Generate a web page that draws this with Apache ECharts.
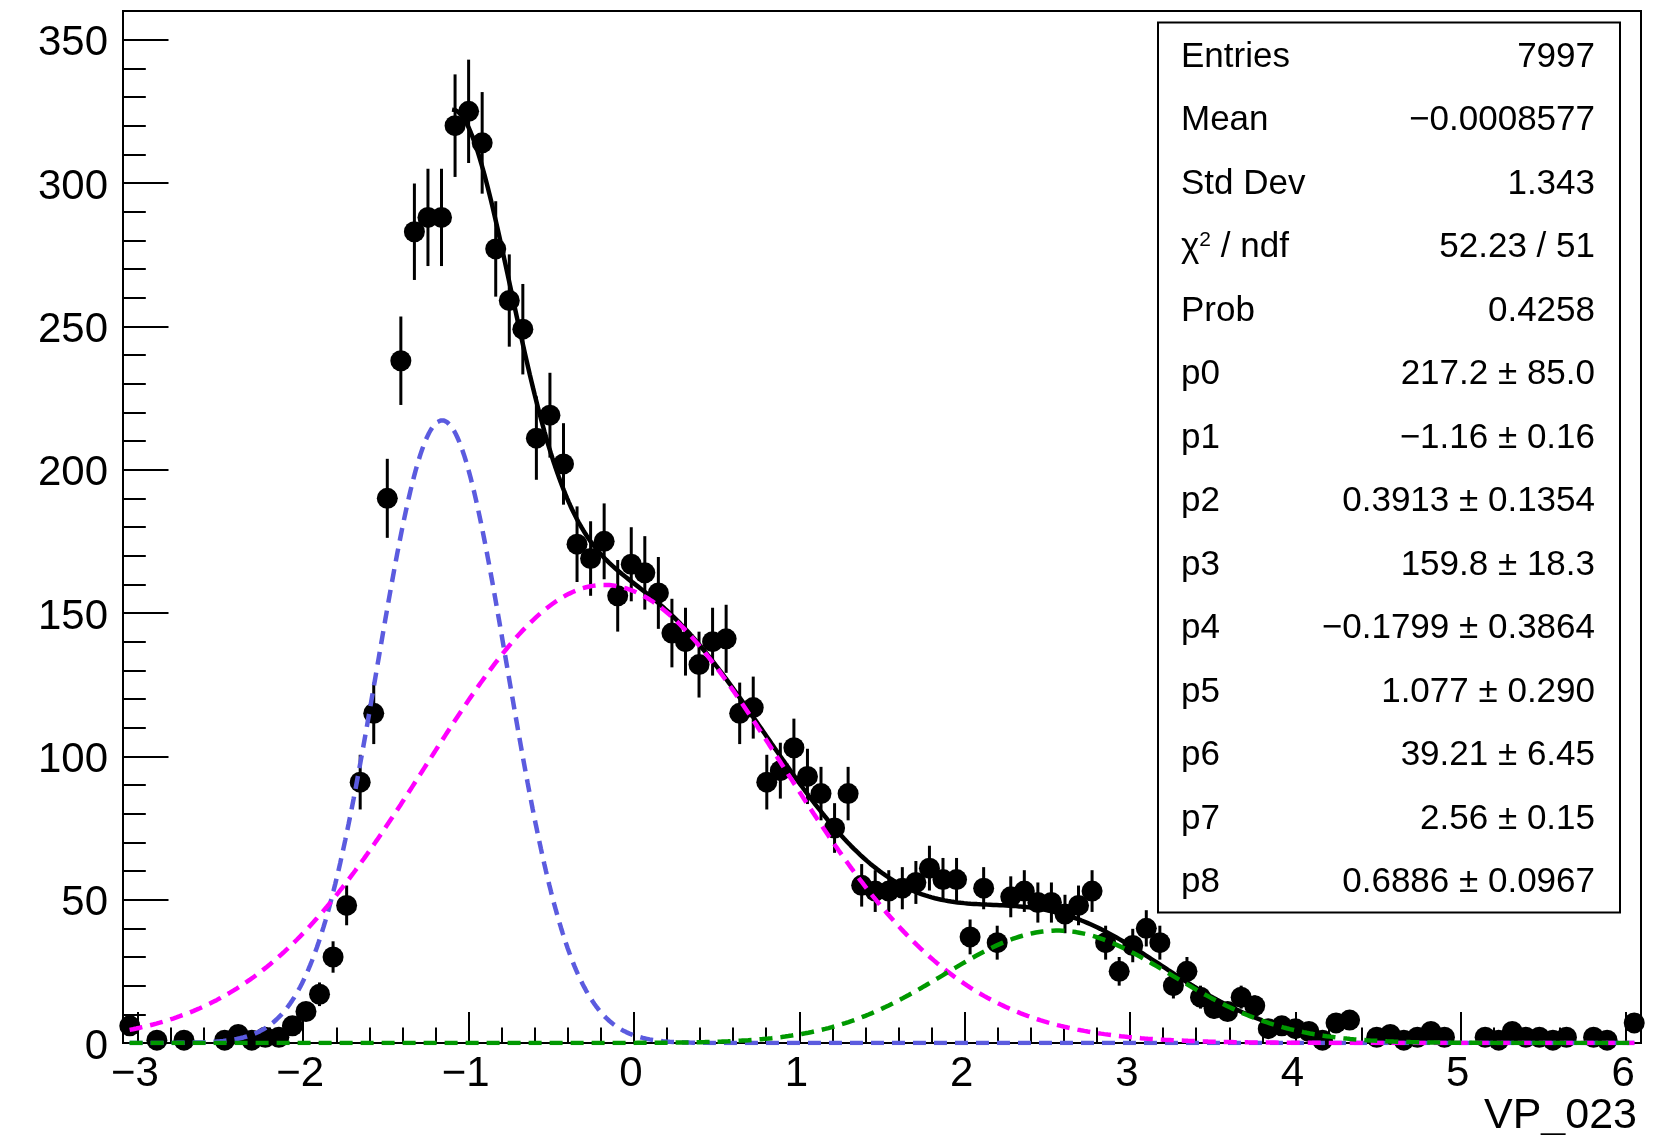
<!DOCTYPE html>
<html>
<head>
<meta charset="utf-8">
<script src="https://cdn.jsdelivr.net/npm/echarts@6/dist/echarts.min.js"></script>
<style>
  html, body { margin: 0; padding: 0; background: #ffffff; }
  #chart { width: 1660px; height: 1135px; }
</style>
</head>
<body>
<div id="chart"></div>
<script>
// ---- Histogram of VP_023: equal-width bins, null = empty bin (not drawn) ----
const histMin = -3.09;
const histMax = 6.09;
const nBins = 112;
const binCounts = [
  6, null, 1, null, 1, null, null, 1, 3, 1,
  2, 2, 6, 11, 17, 30, 48, 91, 115, 190,
  238, 283, 288, 288, 320, 325, 314, 277, 259, 249,
  211, 219, 202, 174, 169, 175, 156, 167, 164, 157,
  143, 140, 132, 140, 141, 115, 117, 91, 95, 103,
  93, 87, 75, 87, 55, 53, 53, 54, 56, 61,
  57, 57, 37, 54, 35, 51, 53, 49, 49, 45,
  48, 53, 35, 25, 34, 40, 35, 20, 25, 16,
  12, 11, 16, 13, 5, 6, 5, 4, 1, 7,
  8, null, 2, 3, 1, 2, 4, 2, null, null,
  2, 1, 4, 2, 2, 1, 2, null, 2, 1,
  null, 7
];

// ---- Axis ticks ----
const xMajorTicks = [-3, -2, -1, 0, 1, 2, 3, 4, 5, 6];
const xMinorTicks = [
  -2.8, -2.6, -2.4, -2.2, -1.8, -1.6, -1.4, -1.2, -0.8, -0.6, -0.4, -0.2,
  0.2, 0.4, 0.6, 0.8, 1.2, 1.4, 1.6, 1.8, 2.2, 2.4, 2.6, 2.8,
  3.2, 3.4, 3.6, 3.8, 4.2, 4.4, 4.6, 4.8, 5.2, 5.4, 5.6, 5.8
];
const yMajorTicks = [0, 50, 100, 150, 200, 250, 300, 350];
const yMinorTicks = [
  10, 20, 30, 40, 60, 70, 80, 90, 110, 120, 130, 140, 160, 170, 180, 190,
  210, 220, 230, 240, 260, 270, 280, 290, 310, 320, 330, 340
];
const yMax = 360;
const xTitle = 'VP_023';

// ---- Fit: three Gaussians, parameters p0..p8 ----
const fitParams = [217.2, -1.16, 0.3913, 159.8, -0.1799, 1.077, 39.21, 2.56, 0.6886];
const fitRange = [-1.1, 3.8];
const componentRange = [-3.05, 6.05];

// ---- Statistics box ----
const statsLabels = ['Entries', 'Mean', 'Std Dev', 'CHI2', 'Prob', 'p0', 'p1', 'p2', 'p3', 'p4', 'p5', 'p6', 'p7', 'p8'];
const statsValues = [
  '7997', '\u22120.0008577', '1.343', '52.23 / 51', '0.4258',
  '217.2 \u00b1 85.0', '\u22121.16 \u00b1 0.16', '0.3913 \u00b1 0.1354', '159.8 \u00b1 18.3',
  '\u22120.1799 \u00b1 0.3864', '1.077 \u00b1 0.290', '39.21 \u00b1 6.45', '2.56 \u00b1 0.15',
  '0.6886 \u00b1 0.0967'
];

const FONT = '"Liberation Sans", Arial, Helvetica, sans-serif';

// ---- Build series data ----
const binWidth = (histMax - histMin) / nBins;
const points = [];
const errorBars = [];
binCounts.forEach((n, k) => {
  if (n === null) return;
  const xc = histMin + binWidth * (k + 0.5);
  const err = Math.sqrt(n);
  points.push([xc, n]);
  errorBars.push([xc, n, n - err, n + err]);
});

function gauss(x, a, mu, s) {
  const t = (x - mu) / s;
  return a * Math.exp(-0.5 * t * t);
}
const p = fitParams;
const comp1 = x => gauss(x, p[0], p[1], p[2]);
const comp2 = x => gauss(x, p[3], p[4], p[5]);
const comp3 = x => gauss(x, p[6], p[7], p[8]);
const total = x => comp1(x) + comp2(x) + comp3(x);

function sample(fn, range, n) {
  const out = [];
  for (let i = 0; i <= n; i++) {
    const x = range[0] + (range[1] - range[0]) * i / n;
    out.push([x, fn(x)]);
  }
  return out;
}

const fmtTick = v => (v < 0 ? '\u2212' + Math.abs(v) : String(v));
const tickLine = { color: '#000', width: 2 };

const dashed = [13, 8];

// ---- Stats box graphics ----
const boxX = 1158, boxY = 22.5, boxW = 462, boxH = 890;
const rowY0 = 57, rowStep = 63.5;
const statFont = 35;
const graphics = [
  {
    type: 'rect', z: 100,
    shape: { x: boxX, y: boxY, width: boxW, height: boxH },
    style: { fill: '#fff', stroke: '#000', lineWidth: 2 }
  }
];
statsLabels.forEach((lab, i) => {
  const y = rowY0 + rowStep * i;
  if (lab === 'CHI2') {
    graphics.push({
      type: 'text', z: 101,
      style: {
        x: 1181, y: y, align: 'left', verticalAlign: 'middle',
        text: '{a|\u03c7}{s|2}{a| / ndf}',
        rich: {
          a: { fontSize: statFont, fontFamily: FONT, fill: '#000', color: '#000' },
          s: { fontSize: 21, fontFamily: FONT, fill: '#000', color: '#000', verticalAlign: 'top' }
        }
      }
    });
  } else {
    graphics.push({
      type: 'text', z: 101,
      style: { x: 1181, y: y, text: lab, align: 'left', verticalAlign: 'middle',
               fontSize: statFont, fontFamily: FONT, fill: '#000' }
    });
  }
  graphics.push({
    type: 'text', z: 101,
    style: { x: 1595, y: y, text: statsValues[i], align: 'right', verticalAlign: 'middle',
             fontSize: statFont, fontFamily: FONT, fill: '#000' }
  });
});
graphics.push({
  type: 'text', z: 101,
  style: { x: 1637, y: 1116, text: xTitle, align: 'right', verticalAlign: 'middle',
           fontSize: 43, fontFamily: FONT, fill: '#000' }
});

const chart = echarts.init(document.getElementById('chart'), null, { renderer: 'canvas' });
chart.setOption({
  animation: false,
  backgroundColor: '#fff',
  grid: {
    left: 123, top: 11, width: 1518, height: 1032,
    show: true, borderColor: '#000', borderWidth: 2, backgroundColor: 'transparent'
  },
  xAxis: [
    {
      type: 'value', min: histMin, max: histMax, position: 'bottom',
      axisLine: { show: true, onZero: false, lineStyle: tickLine },
      axisTick: { show: true, inside: true, length: 31, lineStyle: tickLine, customValues: xMajorTicks },
      axisLabel: { show: true, customValues: xMajorTicks, formatter: fmtTick, margin: 10,
                   padding: [0, 6, 0, 0],
                   fontSize: 42, color: '#000', fontFamily: FONT },
      splitLine: { show: false }
    },
    {
      type: 'value', min: histMin, max: histMax, position: 'bottom',
      axisLine: { show: false, onZero: false },
      axisTick: { show: true, inside: true, length: 15.5, lineStyle: tickLine, customValues: xMinorTicks },
      axisLabel: { show: false },
      splitLine: { show: false }
    }
  ],
  yAxis: [
    {
      type: 'value', min: 0, max: yMax, position: 'left',
      axisLine: { show: true, onZero: false, lineStyle: tickLine },
      axisTick: { show: true, inside: true, length: 45.5, lineStyle: tickLine, customValues: yMajorTicks },
      axisLabel: { show: true, customValues: yMajorTicks, formatter: fmtTick, margin: 15,
                   verticalAlign: 'top', lineHeight: 8,
                   fontSize: 42, color: '#000', fontFamily: FONT },
      splitLine: { show: false }
    },
    {
      type: 'value', min: 0, max: yMax, position: 'left',
      axisLine: { show: false, onZero: false },
      axisTick: { show: true, inside: true, length: 22.8, lineStyle: tickLine, customValues: yMinorTicks },
      axisLabel: { show: false },
      splitLine: { show: false }
    }
  ],
  series: [
    {
      name: 'errors', type: 'custom', xAxisIndex: 0, yAxisIndex: 0, z: 2,
      data: errorBars, encode: { x: 0, y: [2, 3] },
      renderItem: (params, api) => {
        const x = api.value(0);
        const a = api.coord([x, Math.max(api.value(2), 0)]);
        const b = api.coord([x, api.value(3)]);
        return {
          type: 'line',
          shape: { x1: a[0], y1: a[1], x2: b[0], y2: b[1] },
          style: { stroke: '#000', lineWidth: 3 }
        };
      }
    },
    {
      name: 'data', type: 'scatter', xAxisIndex: 0, yAxisIndex: 0, z: 3,
      symbol: 'circle', symbolSize: 21, data: points,
      itemStyle: { color: '#000', opacity: 1 }
    },
    {
      name: 'fit', type: 'line', z: 4, showSymbol: false, symbol: 'none', smooth: false,
      data: sample(total, fitRange, 500),
      lineStyle: { color: '#000', width: 4.5 }
    },
    {
      name: 'g1', type: 'line', z: 5, showSymbol: false, symbol: 'none', smooth: false,
      data: sample(comp1, componentRange, 900),
      lineStyle: { color: '#5b5bdf', width: 4.5, type: dashed }
    },
    {
      name: 'g2', type: 'line', z: 6, showSymbol: false, symbol: 'none', smooth: false,
      data: sample(comp2, componentRange, 900),
      lineStyle: { color: '#ff00ff', width: 4.5, type: dashed }
    },
    {
      name: 'g3', type: 'line', z: 7, showSymbol: false, symbol: 'none', smooth: false,
      data: sample(comp3, componentRange, 900),
      lineStyle: { color: '#009900', width: 4.5, type: dashed }
    }
  ],
  graphic: graphics
});
</script>
</body>
</html>
